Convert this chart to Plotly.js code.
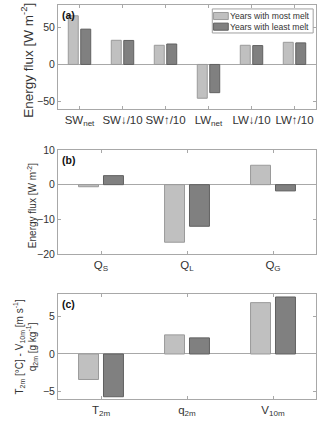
<!DOCTYPE html>
<html>
<head>
<meta charset="utf-8">
<script src="https://cdn.plot.ly/plotly-3.0.1.min.js"></script>
<style>html,body{margin:0;padding:0;background:#fff;}#chart{width:320px;height:421px;}</style>
</head>
<body>
<div id="chart"></div>
<script>
// Panel (a): radiative fluxes
const catsA = ['SW<sub>net</sub>', 'SW↓/10', 'SW↑/10', 'LW<sub>net</sub>', 'LW↓/10', 'LW↑/10'];
const mostA = [65.5, 32.5, 25.8, -45.5, 25.8, 29.8];
const leastA = [47.5, 32.3, 27.5, -38.0, 25.4, 29.0];
// Panel (b): turbulent fluxes
const catsB = ['Q<sub>S</sub>', 'Q<sub>L</sub>', 'Q<sub>G</sub>'];
const mostB = [-0.6, -16.6, 5.6];
const leastB = [2.6, -12.0, -1.8];
// Panel (c): meteorological variables
const catsC = ['T<sub>2m</sub>', 'q<sub>2m</sub>', 'V<sub>10m</sub>'];
const mostC = [-3.4, 2.55, 6.85];
const leastC = [-5.7, 2.15, 7.6];
const seriesNames = ['Years with most melt', 'Years with least melt'];
const yTitles = ['Energy flux [W m<sup>-2</sup>]', 'Energy flux [W m<sup>-2</sup>]',
  'T<sub>2m</sub> [°C] - V<sub>10m</sub> [m s<sup>-1</sup>]<br>q<sub>2m</sub> [g kg<sup>-1</sup>]'];

const lightFill = '#c0c0c0', lightLine = '#9a9a9a';
const darkFill = '#808080', darkLine = '#606060';
const font = 'Liberation Sans, Arial, sans-serif';
const txt = '#333333';
const axCol = '#a8a8a8';

function bar(x, y, name, fill, line, xa, ya) {
  return {type: 'bar', x: x, y: y, name: name, xaxis: xa, yaxis: ya, showlegend: false,
    marker: {color: fill, line: {color: line, width: 1}}, hoverinfo: 'skip'};
}
const data = [
  bar(catsA, mostA, seriesNames[0], lightFill, lightLine, 'x', 'y'),
  bar(catsA, leastA, seriesNames[1], darkFill, darkLine, 'x', 'y'),
  bar(catsB, mostB, seriesNames[0], lightFill, lightLine, 'x2', 'y2'),
  bar(catsB, leastB, seriesNames[1], darkFill, darkLine, 'x2', 'y2'),
  bar(catsC, mostC, seriesNames[0], lightFill, lightLine, 'x3', 'y3'),
  bar(catsC, leastC, seriesNames[1], darkFill, darkLine, 'x3', 'y3')
];

function xax(anchor, cats) {
  return {anchor: anchor, domain: [0, 1], type: 'category', categoryarray: cats,
    showline: true, linecolor: axCol, linewidth: 1, mirror: 'allticks',
    ticks: 'inside', ticklen: 3, tickcolor: axCol, showgrid: false, zeroline: false,
    tickfont: {family: font, size: 11.5, color: txt}, fixedrange: true};
}
function yax(anchor, dom, range, tv) {
  return {anchor: anchor, domain: dom, range: range, tickvals: tv,
    showline: true, linecolor: axCol, linewidth: 1, mirror: 'allticks',
    ticks: 'inside', ticklen: 3, tickcolor: axCol, showgrid: false,
    zeroline: true, zerolinecolor: axCol, zerolinewidth: 1,
    tickfont: {family: font, size: 10.5, color: txt}, fixedrange: true};
}

// custom compact legend (paper coords of the top panel region)
const legX0 = 0.598, legX1 = 0.989, legY0 = 0.929, legY1 = 0.990;
const rowY = [0.972, 0.945];
const swW = [0.603, 0.660];
const swH = 0.009;
const shapes = [
  {type: 'rect', xref: 'paper', yref: 'paper', x0: legX0, x1: legX1, y0: legY0, y1: legY1,
   line: {color: '#a0a0a0', width: 1}, fillcolor: '#fff', layer: 'above'}
];
const fills = [[lightFill, lightLine], [darkFill, darkLine]];
const annotations = [];
for (let i = 0; i < 2; i++) {
  shapes.push({type: 'rect', xref: 'paper', yref: 'paper', x0: swW[0], x1: swW[1],
    y0: rowY[i] - swH, y1: rowY[i] + swH, fillcolor: fills[i][0],
    line: {color: fills[i][1], width: 1}, layer: 'above'});
  annotations.push({text: seriesNames[i], xref: 'paper', yref: 'paper', x: 0.664, y: rowY[i],
    xanchor: 'left', yanchor: 'middle', showarrow: false, borderpad: 0,
    font: {family: font, size: 8.6, color: txt}});
}
const panelLabels = [['(a)', 0.995], ['(b)', 0.628], ['(c)', 0.262]];
panelLabels.forEach(p => annotations.push({text: '<b>' + p[0] + '</b>', xref: 'paper', yref: 'paper',
  x: 0.008, y: p[1], xanchor: 'left', yanchor: 'top', showarrow: false,
  font: {family: font, size: 10.5, color: '#111'}}));
// y-axis titles as rotated annotations
const titlePos = [[-0.118, 0.860, 13.5], [-0.100, 0.490, 10], [-0.128, 0.133, 10]];
titlePos.forEach((p, i) => annotations.push({text: yTitles[i], xref: 'paper', yref: 'paper',
  x: p[0], y: p[1], xanchor: 'center', yanchor: 'middle', textangle: -90, showarrow: false,
  borderpad: 0, font: {family: font, size: p[2], color: txt}}));

const layout = {
  width: 320, height: 421,
  margin: {l: 58, r: 4, t: 5, b: 22},
  paper_bgcolor: '#fff', plot_bgcolor: '#fff',
  barmode: 'group', bargap: 0.42, bargroupgap: 0.2,
  font: {family: font, color: txt},
  showlegend: false,
  xaxis: xax('y', catsA),
  xaxis2: xax('y2', catsB),
  xaxis3: xax('y3', catsC),
  yaxis: yax('x', [0.736, 1], [-60, 80], [-50, 0, 50]),
  yaxis2: yax('x2', [0.368, 0.632], [-20, 10], [-20, -10, 0, 10]),
  yaxis3: yax('x3', [0, 0.2665], [-6, 8], [-5, 0, 5]),
  shapes: shapes,
  annotations: annotations
};

Plotly.newPlot('chart', data, layout, {displayModeBar: false, staticPlot: true});
</script>
</body>
</html>
